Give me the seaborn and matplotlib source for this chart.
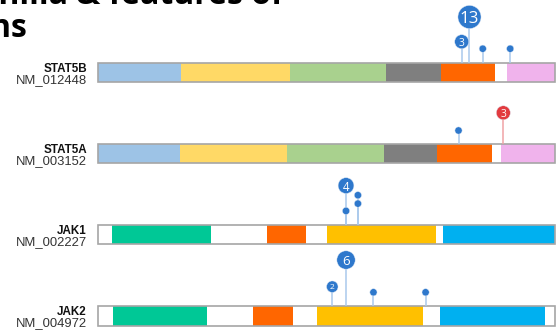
import numpy as np
import pandas as pd
import matplotlib
matplotlib.use("Agg")
import matplotlib.pyplot as plt
import seaborn as sns

# Genes and transcripts
genes = ["STAT5B", "STAT5A", "JAK1", "JAK2"]
accessions = ["NM_012448", "NM_003152", "NM_002227", "NM_004972"]

# Domain boundaries along each protein (relative position, %) and domain colours
stat5b_bounds = [0, 18.2, 42.0, 63.0, 75.1, 86.9, 89.5, 100]
stat5a_bounds = [0, 18.0, 41.5, 62.5, 74.3, 86.3, 88.1, 100]
jak1_bounds = [0, 3.1, 24.8, 37.0, 45.6, 50.2, 74.0, 75.6, 100]
jak2_bounds = [0, 3.4, 23.8, 34.0, 42.6, 48.0, 71.1, 74.9, 97.8, 100]

stat_colors = ["#9DC3E6", "#FFD966", "#A9D18E", "#7F7F7F", "#FF6600", "#FFFFFF", "#F0B3EC"]
jak1_colors = ["#FFFFFF", "#00C896", "#FFFFFF", "#FF6600", "#FFFFFF", "#FFC000", "#FFFFFF", "#00B0F0"]
jak2_colors = ["#FFFFFF", "#00C896", "#FFFFFF", "#FF6600", "#FFFFFF", "#FFC000", "#FFFFFF", "#00B0F0", "#FFFFFF"]

# Mutation lollipops: gene, relative position, count, stem height, class
pop_gene = ["STAT5B", "STAT5B", "STAT5B", "STAT5B",
            "STAT5A", "STAT5A",
            "JAK1", "JAK1", "JAK1", "JAK1",
            "JAK2", "JAK2", "JAK2", "JAK2"]
pop_pos = [81.3, 79.6, 84.2, 90.2,
           78.9, 88.7,
           54.3, 54.3, 56.9, 56.9,
           54.3, 51.3, 60.3, 71.7]
pop_count = [13, 3, 1, 1,
             1, 3,
             4, 1, 1, 1,
             6, 2, 1, 1]
pop_height = [45.7, 21.0, 14.0, 14.0,
              13.3, 31.0,
              39.3, 14.0, 29.7, 21.3,
              46.0, 19.3, 13.7, 13.7]
pop_kind = ["missense"] * 5 + ["truncating"] + ["missense"] * 8

bounds = [stat5b_bounds, stat5a_bounds, jak1_bounds, jak2_bounds]
colors = [stat_colors, stat_colors, jak1_colors, jak2_colors]

# Layout (pixel-based canvas)
W, H, DPI = 557, 333, 100
px_per_unit = 4.573
x_left_px = 97.7
first_top, row_gap, bar_h = 62.7, 81.1, 19.5


def head_radius(c):
    return 3.6 + 3.1 * np.log(c)


sns.set_theme(style="white")
plt.rcParams["font.family"] = ["Liberation Sans", "DejaVu Sans"]

fig = plt.figure(figsize=(W / DPI, H / DPI), dpi=DPI)
ax = fig.add_axes([0, 0, 1, 1])
ax.set_xlim(-x_left_px / px_per_unit, (W - x_left_px) / px_per_unit)
ax.set_ylim(H, 0)
ax.axis("off")

bar_tops = {}
for i, g in enumerate(genes):
    top = first_top + i * row_gap
    bar_tops[g] = top
    b = bounds[i]
    lefts = np.array(b[:-1])
    widths = np.diff(b)
    ax.barh([top + bar_h / 2] * len(widths), widths, left=lefts, height=bar_h,
            color=colors[i], edgecolor="none", zorder=1)
    ax.add_patch(plt.Rectangle((0, top), 100, bar_h, fill=False,
                               edgecolor="#A6A6A6", linewidth=1.2, zorder=2))
    lx = -10.8 / px_per_unit
    ax.text(lx, top + 9.0, g, ha="right", va="baseline", fontsize=8.4,
            fontweight="bold", color="#111111")
    ax.text(lx, top + 20.3, accessions[i], ha="right", va="baseline",
            fontsize=9.4, color="#333333")

pops = pd.DataFrame({"gene": pop_gene, "pos": pop_pos, "count": pop_count,
                     "height": pop_height, "kind": pop_kind})
pops["base"] = pops["gene"].map(bar_tops)
pops["y"] = pops["base"] - pops["height"]
pops["radius"] = head_radius(pops["count"])

head_colors = {"missense": "#2E78CC", "truncating": "#E23B3F"}
stem_colors = {"missense": "#A9C9EC", "truncating": "#F0A3A6"}

for _, r in pops.iterrows():
    ax.vlines(r["pos"], r["y"], r["base"], color=stem_colors[r["kind"]],
              linewidth=1.1, zorder=3)

size_map = {c: (2 * head_radius(c) * 72 / DPI) ** 2 for c in sorted(set(pop_count))}
sns.scatterplot(data=pops, x="pos", y="y", hue="kind", palette=head_colors,
                size="count", sizes=size_map, legend=False, linewidth=0.3,
                edgecolor="#DDE8F5", ax=ax, zorder=4)

for _, r in pops.iterrows():
    if r["count"] > 1:
        ax.text(r["pos"], r["y"], str(r["count"]), ha="center", va="center_baseline",
                fontsize=r["radius"] * 1.05, color="white", zorder=5,
                family=["Open Sans", "DejaVu Sans"])

# Slide heading
fig.text(283 / W, 1 - 4.5 / H, "Eosinophilia & features of", ha="right", va="baseline",
         fontsize=23, fontweight="bold", color="black", family=["Open Sans", "DejaVu Sans"])
fig.text(27 / W, 1 - 37 / H, "mutations", ha="right", va="baseline",
         fontsize=23, fontweight="bold", color="black", family=["Open Sans", "DejaVu Sans"])

fig.savefig("out.png", dpi=DPI)
